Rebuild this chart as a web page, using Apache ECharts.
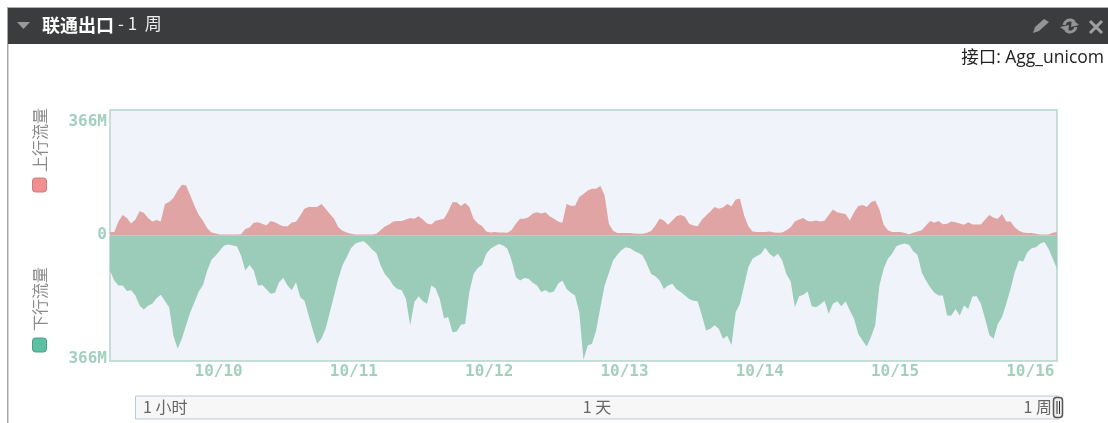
<!DOCTYPE html>
<html>
<head>
<meta charset="utf-8">
<title>联通出口</title>
<script src="https://cdn.jsdelivr.net/npm/echarts@6/dist/echarts.min.js"></script>
<style>
  html, body { margin: 0; padding: 0; background: #fff; }
  #chart { width: 1108px; height: 423px; }
</style>
</head>
<body>
<div id="chart"></div>
<script>
// traffic in Mbps, one reading every 45 minutes
const upTraffic = [
  10,10,41,60,51,35,47,71,66,51,41,45,41,92,98,109,131,148,146,117,86,60,43,21,9,6,3,3,3,3,3,4,19,23,37,39,34,29,42,
  39,32,27,27,38,40,58,78,83,83,83,92,78,63,49,24,14,9,5,3,3,3,3,3,5,15,26,32,41,42,42,47,51,49,56,47,35,
  32,43,46,49,70,97,97,86,95,83,49,35,28,12,9,10,9,9,8,16,34,49,49,53,64,68,64,68,56,49,41,37,92,87,87,112,121,131,
  136,136,144,117,34,14,7,7,7,7,6,5,5,8,13,29,49,44,31,44,56,60,55,34,29,27,46,58,70,83,78,82,92,85,105,107,58,27,
  12,10,10,10,12,9,8,9,15,24,41,47,51,42,41,44,41,43,60,76,68,65,63,44,68,86,89,83,97,102,76,31,15,10,10,
  10,7,4,8,12,15,29,42,37,42,33,34,41,39,35,31,39,32,32,32,47,60,52,49,63,41,41,24,14,9,7,7,5,3,3,3,8,10
]
const downTraffic = [
  102,131,146,146,162,160,175,204,216,205,199,183,173,191,209,292,330,301,262,224,194,163,144,102,71,58,44,29,26,29,31,58,102,86,102,146,144,157,170,
  167,136,124,146,160,136,180,190,233,277,316,301,272,224,175,126,87,63,37,24,19,17,27,41,51,87,112,126,146,156,160,185,262,194,177,192,199,
  146,154,185,241,238,282,280,260,258,165,112,95,86,53,39,31,25,29,39,73,122,131,124,126,138,146,165,160,167,163,141,131,156,167,175,224,362,321,
  316,277,209,146,109,73,56,42,34,37,45,51,58,83,112,119,131,156,146,141,157,165,175,185,190,192,233,277,272,262,272,301,292,319,224,199,146,92,
  68,60,53,36,53,63,53,73,112,134,209,177,173,163,206,209,201,190,228,199,192,206,192,219,243,287,306,324,296,262,146,97,68,53,31,
  26,23,27,46,56,107,131,151,167,175,175,233,233,214,233,204,214,178,177,199,243,290,301,258,238,199,156,107,73,76,49,37,34,24,19,39,68,97
]
const axisTicks = [-366, 0, 366]
const dayTicks = [10, 11, 12, 13, 14, 15, 16]
const rangeLabels = ['1 小时', '1 天', '1 周']

const startTime = new Date(2016, 9, 9, 4, 44).getTime()
const stepMs = 45 * 60 * 1000

function toSeries(values, sign) {
  return values.map((v, i) => [startTime + i * stepMs, sign * v])
}

const cjk = '"Noto Sans CJK SC", "Open Sans", sans-serif'
const mono = '"DejaVu Sans Mono", monospace'
const axisColor = '#a3cfbe'
const iconColor = '#949494'

function tickStyle(padding) {
  return { color: axisColor, fontFamily: mono, fontWeight: 'bold', fontSize: 16, padding: padding }
}

const chart = echarts.init(document.getElementById('chart'))
chart.setOption({
  animation: false,
  backgroundColor: '#fff',
  grid: {
    show: true,
    left: 110,
    top: 110,
    width: 947,
    height: 251,
    backgroundColor: '#f0f3f9',
    borderColor: '#b4d5ca',
    borderWidth: 1.5
  },
  xAxis: {
    type: 'value',
    min: startTime,
    max: startTime + (upTraffic.length - 1) * stepMs,
    axisLine: { show: false },
    axisTick: { show: false },
    splitLine: { show: false },
    axisLabel: {
      customValues: dayTicks.map(d => new Date(2016, 9, d).getTime()),
      margin: 3,
      color: axisColor,
      fontFamily: mono,
      fontWeight: 'bold',
      fontSize: 16,
      hideOverlap: false,
      formatter: v => echarts.time.format(v, '{MM}/{dd}', false)
    }
  },
  yAxis: {
    type: 'value',
    min: -366,
    max: 366,
    axisLine: { show: false },
    axisTick: { show: false },
    splitLine: { show: false },
    axisLabel: {
      customValues: axisTicks,
      margin: 3,
      formatter: v => {
        if (v === 0) return '{zero|0}'
        return (v > 0 ? '{top|' : '{bottom|') + Math.abs(v) + 'M}'
      },
      rich: {
        top: tickStyle([24, 0, 0, 0]),
        zero: tickStyle([0, 0, 1, 0]),
        bottom: tickStyle([0, 0, 4, 0])
      }
    }
  },
  series: [
    {
      name: '上行流量',
      type: 'line',
      data: toSeries(upTraffic, 1),
      showSymbol: false,
      lineStyle: { width: 0 },
      areaStyle: { color: '#e1a4a4', opacity: 1 }
    },
    {
      name: '下行流量',
      type: 'line',
      data: toSeries(downTraffic, -1),
      showSymbol: false,
      lineStyle: { width: 0 },
      areaStyle: { color: '#9bccba', opacity: 1 }
    }
  ],
  graphic: [
    // panel frame and header
    { type: 'rect', shape: { x: 7, y: 7, width: 1101, height: 1.5 }, style: { fill: '#b0b0b0' } },
    { type: 'rect', shape: { x: 7, y: 7, width: 1.5, height: 416 }, style: { fill: '#a8a8a8' } },
    { type: 'rect', shape: { x: 8, y: 8, width: 1100, height: 36 }, style: { fill: '#3b3c3e' } },
    { type: 'polygon', shape: { points: [[17, 22], [30, 22], [23.5, 29]] }, style: { fill: '#9a9a9a' } },
    { type: 'text', x: 42, y: 16, style: { text: '联通出口', fill: '#fff', font: 'bold 18px ' + cjk } },
    { type: 'text', x: 118, y: 15, style: { text: '- 1  周', fill: '#eee', font: '17px ' + cjk } },
    { type: 'text', x: 1104, y: 49, style: { text: '接口: Agg_unicom', fill: '#222', align: 'right', font: '17.5px "Open Sans", ' + cjk } },
    // header icons
    { type: 'polygon', shape: { points: [[1033, 33], [1035, 27], [1044, 19], [1049, 22], [1039, 31]] }, style: { fill: iconColor } },
    { type: 'arc', shape: { cx: 1070, cy: 26, r: 6, startAngle: Math.PI * 1.05, endAngle: Math.PI * 1.75 }, style: { stroke: iconColor, lineWidth: 3, fill: null } },
    { type: 'polygon', shape: { points: [[1072, 19], [1079, 25], [1071, 27]] }, style: { fill: iconColor } },
    { type: 'arc', shape: { cx: 1070, cy: 26, r: 6, startAngle: Math.PI * 0.05, endAngle: Math.PI * 0.75 }, style: { stroke: iconColor, lineWidth: 3, fill: null } },
    { type: 'polygon', shape: { points: [[1068, 33], [1060, 27], [1069, 25]] }, style: { fill: iconColor } },
    { type: 'polyline', shape: { points: [[1090, 21], [1102, 33]] }, style: { stroke: '#a0a0a0', lineWidth: 3, fill: null } },
    { type: 'polyline', shape: { points: [[1102, 21], [1090, 33]] }, style: { stroke: '#a0a0a0', lineWidth: 3, fill: null } },
    // rotated series names
    { type: 'text', x: 32, y: 172, rotation: Math.PI / 2, style: { text: '上行流量', fill: '#8a8a8a', font: '16px ' + cjk } },
    { type: 'rect', shape: { x: 32.5, y: 178, width: 14, height: 14, r: 3 }, style: { fill: '#f08f8f', stroke: '#cf7a7a' } },
    { type: 'text', x: 32, y: 331, rotation: Math.PI / 2, style: { text: '下行流量', fill: '#8a8a8a', font: '16px ' + cjk } },
    { type: 'rect', shape: { x: 32.5, y: 338, width: 14, height: 14, r: 3 }, style: { fill: '#5cc0a2', stroke: '#4a9f85' } },
    // range slider
    { type: 'rect', shape: { x: 135.5, y: 396, width: 923, height: 23 }, style: { fill: '#f7f7f7', stroke: '#b9cbdc' } },
    { type: 'text', x: 143, y: 399, style: { text: rangeLabels[0], fill: '#666', font: '16px ' + cjk } },
    { type: 'text', x: 597, y: 399, style: { text: rangeLabels[1], fill: '#666', align: 'center', font: '16px ' + cjk } },
    { type: 'text', x: 1052, y: 399, style: { text: rangeLabels[2], fill: '#666', align: 'right', font: '16px ' + cjk } },
    { type: 'rect', shape: { x: 1053.5, y: 397.5, width: 9, height: 20, r: 3 }, style: { fill: '#eee', stroke: '#555', lineWidth: 1.5 } },
    { type: 'rect', shape: { x: 1056.5, y: 401, width: 1, height: 13 }, style: { fill: '#333' } },
    { type: 'rect', shape: { x: 1059, y: 401, width: 1, height: 13 }, style: { fill: '#333' } }
  ]
})
</script>
</body>
</html>
